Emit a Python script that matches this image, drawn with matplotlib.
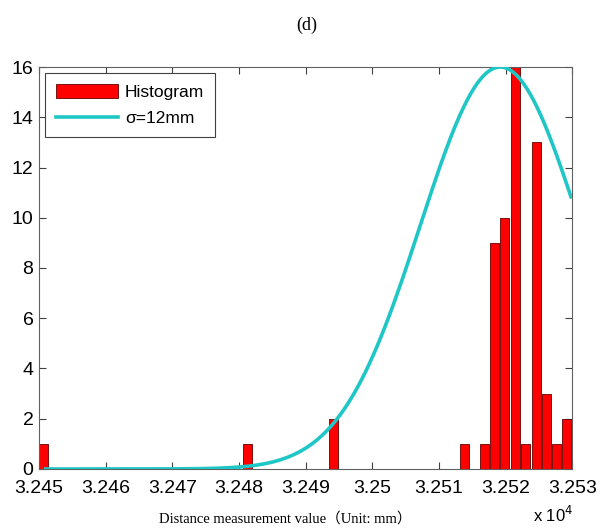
import numpy as np
import matplotlib.pyplot as plt
from matplotlib.ticker import MultipleLocator, FuncFormatter

# histogram bins (mm) and counts
bin_centers = [32450.6, 32481.3, 32494.2, 32513.8, 32516.8, 32518.4, 32519.9,
               32521.5, 32523.0, 32524.6, 32526.1, 32527.7, 32529.2]
counts = [1, 1, 2, 1, 1, 9, 10, 16, 1, 13, 3, 1, 2]

# normal fit
mu = 32519.2
sigma = 12.0
peak = 16.0
fit_start, fit_end = 32451.0, 32529.8

fig = plt.figure(figsize=(6.06, 5.31), dpi=100)
ax = fig.add_axes([0.0644, 0.1168, 0.8800, 0.7570])

bars = ax.bar(bin_centers, counts, width=1.35, color='#ff0000', edgecolor='#600000',
              linewidth=0.6, zorder=2)

xs = np.linspace(fit_start, fit_end, 300)
ys = peak * np.exp(-(xs - mu) ** 2 / (2 * sigma ** 2))
line, = ax.plot(xs, ys, color='#1fc6c6', linewidth=2.6, zorder=3)

ax.set_xlim(32450, 32530)
ax.set_ylim(0, 16)
ax.xaxis.set_major_locator(MultipleLocator(10))
ax.yaxis.set_major_locator(MultipleLocator(2))
ax.xaxis.set_major_formatter(FuncFormatter(lambda v, p: '%g' % (v / 1e4)))
ax.tick_params(direction='in', top=True, right=True, length=5, width=0.8,
               colors='#404040', labelcolor='black', labelsize=14)
ax.tick_params(axis='x', pad=8)
ax.tick_params(axis='y', pad=4)
for lbl in ax.get_xticklabels() + ax.get_yticklabels():
    lbl.set_family('Liberation Sans')
for s in ax.spines.values():
    s.set_color('#606060')
    s.set_linewidth(0.8)

leg = ax.legend([bars, line], ['Histogram', 'σ=12mm'], loc='upper left',
                fancybox=False, framealpha=1,
                prop={'family': 'Liberation Sans', 'size': 12.5},
                handlelength=3.6, handleheight=0.9, borderpad=0.6,
                labelspacing=0.6, borderaxespad=0.35, handletextpad=0.4)
leg.get_frame().set_edgecolor('#404040')
leg.get_frame().set_linewidth(0.8)

fig.text(0.507, 0.953, '(d)', ha='center', va='center', fontsize=13,
         family='Liberation Serif')
fig.text(0.47, 0.023, 'Distance measurement value（Unit: mm）', ha='center',
         va='center', fontsize=10.5, family=['Liberation Serif', 'Noto Sans CJK SC'])
fig.text(0.912, 0.03, r'x 10$^{4}$', ha='center', va='center', fontsize=12,
         family='Liberation Sans')

fig.savefig('out.png', dpi=100)
